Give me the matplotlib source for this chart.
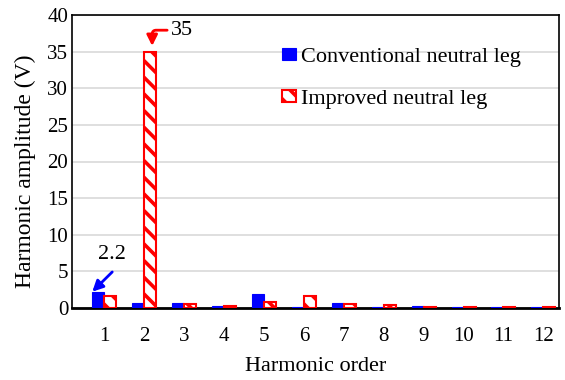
import matplotlib
matplotlib.use("Agg")
import matplotlib.pyplot as plt
import numpy as np

plt.rcParams['font.family'] = ['Liberation Serif', 'DejaVu Serif']
plt.rcParams['hatch.linewidth'] = 2.6

orders = [1, 2, 3, 4, 5, 6, 7, 8, 9, 10, 11, 12]
conventional = [2.2, 0.7, 0.7, 0.2, 1.9, 0.1, 0.6, 0.1, 0.2, 0.05, 0.05, 0.05]
improved = [1.6, 35, 0.55, 0.3, 0.85, 1.6, 0.55, 0.35, 0.15, 0.05, 0.05, 0.05]

fig = plt.figure(figsize=(5.65, 3.8), dpi=100)
ax = fig.add_axes([0.128, 0.19, 0.862, 0.77])

x = np.arange(len(orders))
w = 0.3
ax.bar(x - w/2, conventional, w, color='#0000ff', edgecolor='#0000ff', linewidth=0.8,
       label='Conventional neutral leg', zorder=3)
ax.bar(x + w/2, improved, w, facecolor='white', edgecolor='#ff0000', linewidth=1.5,
       hatch='\\\\', label='Improved neutral leg', zorder=3)

ax.set_ylim(0, 40)
ax.set_xlim(-0.8, 11.4)
ax.set_yticks(range(0, 41, 5))
ax.set_xticks(x)
ax.set_xticklabels([str(o) for o in orders])
ax.yaxis.grid(True, color='#d9d9d9', linewidth=1.2, zorder=0)
ax.set_axisbelow(True)
ax.tick_params(axis='both', length=0, labelsize=15)
ax.tick_params(axis='x', pad=14)
ax.tick_params(axis='y', pad=3)
for s in ax.spines.values():
    s.set_color('black')
    s.set_linewidth(1.2)
ax.spines['bottom'].set_linewidth(2)

ax.set_xlabel('Harmonic order', fontsize=16)
ax.xaxis.set_label_coords(0.5, -0.168)
ax.set_ylabel('Harmonic amplitude (V)', fontsize=17)
ax.yaxis.set_label_coords(-0.074, 0.468)

ax.text(0.19, 7.3, '2.2', fontsize=16, ha='center', va='center')
ax.annotate('', xy=(-0.3, 2.2), xytext=(0.2, 4.9),
            arrowprops=dict(arrowstyle='-|>', color='#0000ff', lw=2, mutation_scale=16,
                            shrinkA=0, shrinkB=0))
ax.text(1.94, 37.95, '35', fontsize=16, ha='center', va='center')
ax.annotate('', xy=(1.2, 35.8), xytext=(1.575, 37.95),
            arrowprops=dict(arrowstyle='-|>', color='#ff0000', lw=2, mutation_scale=16,
                            connectionstyle='angle,angleA=0,angleB=90,rad=4',
                            shrinkA=0, shrinkB=0))

ax.legend(loc='upper left', bbox_to_anchor=(0.39, 0.955), frameon=False, fontsize=16,
          handlelength=0.6, handleheight=0.45, handletextpad=0.25, labelspacing=1.0)

fig.savefig('out.png', dpi=100)
